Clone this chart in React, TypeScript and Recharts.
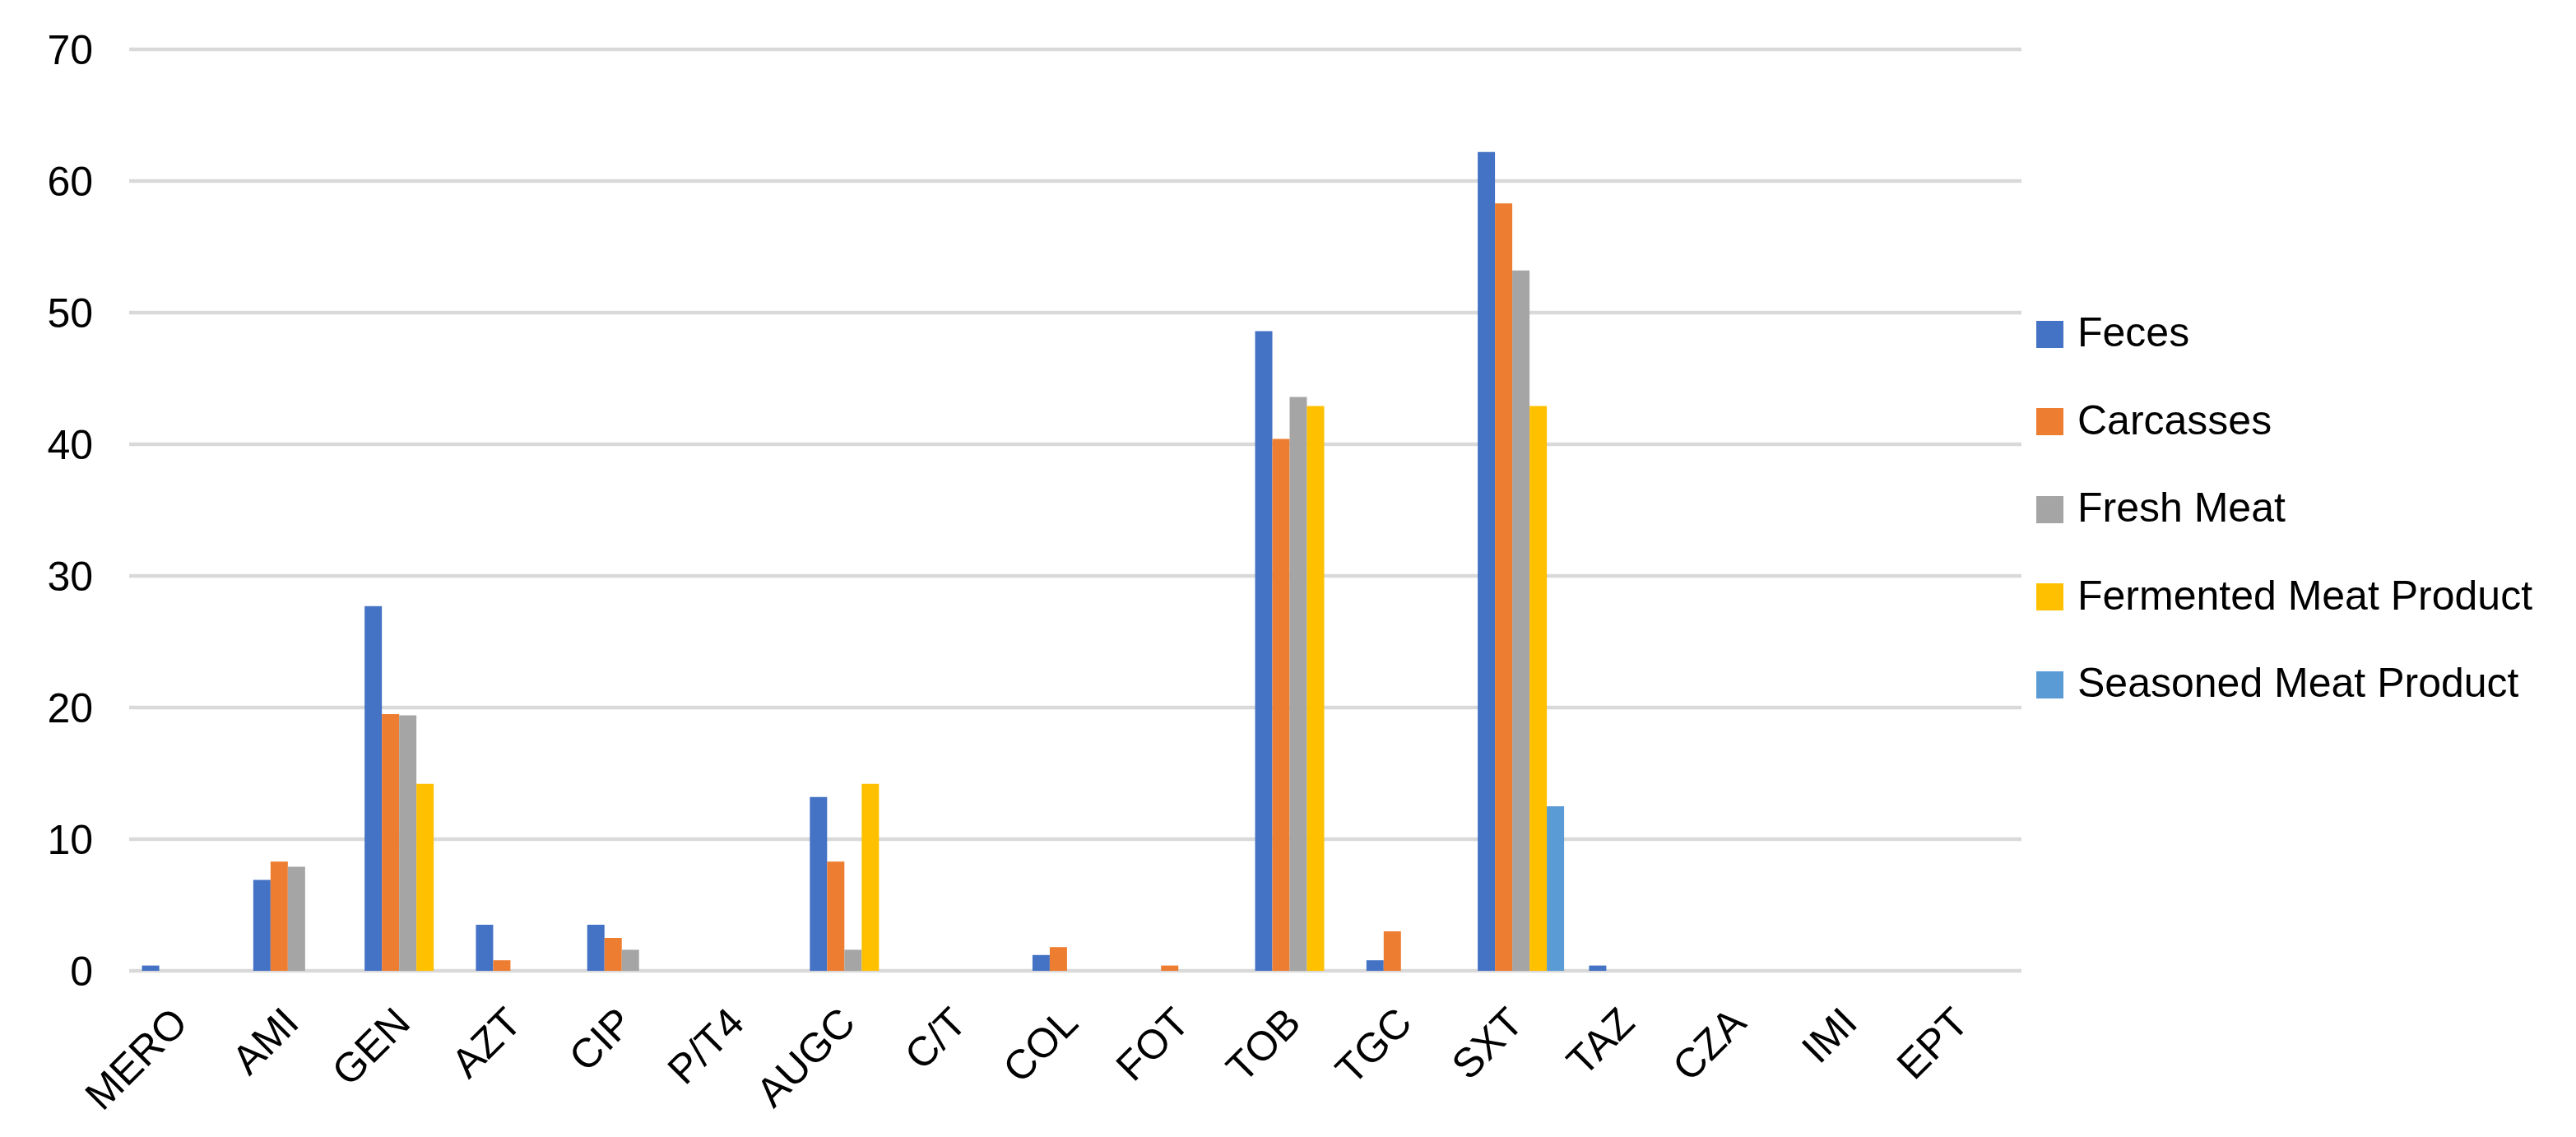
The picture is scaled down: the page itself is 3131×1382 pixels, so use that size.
import React from "react";
import { BarChart, Bar, XAxis, YAxis, CartesianGrid, Legend } from "recharts";

const categories = ["MERO", "AMI", "GEN", "AZT", "CIP", "P/T4", "AUGC", "C/T", "COL", "FOT", "TOB", "TGC", "SXT", "TAZ", "CZA", "IMI", "EPT"];
const feces = [0.4, 6.9, 27.7, 3.5, 3.5, 0, 13.2, 0, 1.2, 0, 48.6, 0.8, 62.2, 0.4, 0, 0, 0];
const carcasses = [0, 8.3, 19.5, 0.8, 2.5, 0, 8.3, 0, 1.8, 0.4, 40.4, 3.0, 58.3, 0, 0, 0, 0];
const freshMeat = [0, 7.9, 19.4, 0, 1.6, 0, 1.6, 0, 0, 0, 43.6, 0, 53.2, 0, 0, 0, 0];
const fermented = [0, 0, 14.2, 0, 0, 0, 14.2, 0, 0, 0, 42.9, 0, 42.9, 0, 0, 0, 0];
const seasoned = [0, 0, 0, 0, 0, 0, 0, 0, 0, 0, 0, 0, 12.5, 0, 0, 0, 0];
const yTicks = [0, 10, 20, 30, 40, 50, 60, 70];

const seriesNames = ["Feces", "Carcasses", "Fresh Meat", "Fermented Meat Product", "Seasoned Meat Product"];
const seriesKeys = ["feces", "carcasses", "fresh", "fermented", "seasoned"];
const seriesColors = ["#4472C4", "#ED7D31", "#A5A5A5", "#FFC000", "#5B9BD5"];
const seriesValues = [feces, carcasses, freshMeat, fermented, seasoned];

const data = categories.map((c, i) => {
  const row: Record<string, string | number> = { name: c };
  seriesKeys.forEach((k, s) => {
    row[k] = seriesValues[s][i];
  });
  return row;
});

const FONT = "'Liberation Sans', Arial, sans-serif";

const XTick = (props: any) => {
  const { x, y, payload } = props;
  const ax = x + 6;
  const ay = y + 66;
  return (
    <text
      x={ax}
      y={ay}
      transform={`rotate(-45, ${ax}, ${ay})`}
      textAnchor="end"
      fontSize={50}
      fontFamily={FONT}
      fill="#000"
    >
      {payload.value}
    </text>
  );
};

const LegendContent = () => (
  <div style={{ fontFamily: FONT }}>
    {seriesNames.map((n, i) => (
      <div key={n} style={{ height: 106.5, display: "flex", alignItems: "center" }}>
        <div style={{ width: 33, height: 33, background: seriesColors[i], marginRight: 17, flex: "none" }} />
        <span style={{ fontSize: 50, color: "#000", whiteSpace: "nowrap", lineHeight: "50px", position: "relative", top: -2 }}>{n}</span>
      </div>
    ))}
  </div>
);

export default function App() {
  return (
    <div style={{ width: 3115, height: 1366, background: "#fff" }}>
      <BarChart
        width={3115}
        height={1366}
        data={data}
        margin={{ top: 52, right: 666, bottom: 0, left: 0 }}
        barCategoryGap="11.5%"
        barGap={0}
      >
        <CartesianGrid vertical={false} stroke="#D9D9D9" strokeWidth={4.5} />
        <XAxis
          dataKey="name"
          interval={0}
          height={194}
          tickLine={false}
          axisLine={false}
          tickSize={0}
          tickMargin={0}
          tick={<XTick />}
        />
        <YAxis
          width={149}
          domain={[0, 70]}
          ticks={yTicks}
          tickLine={false}
          axisLine={false}
          tickSize={0}
          tickMargin={44}
          tick={{ fontSize: 50, fontFamily: FONT, fill: "#000" }}
        />
        <Legend
          layout="vertical"
          align="center"
          verticalAlign="middle"
          wrapperStyle={{ left: 2467, top: 345, width: 640, height: 533 }}
          content={<LegendContent />}
        />
        {seriesKeys.map((k, i) => (
          <Bar key={k} dataKey={k} name={seriesNames[i]} fill={seriesColors[i]} isAnimationActive={false} />
        ))}
      </BarChart>
    </div>
  );
}
